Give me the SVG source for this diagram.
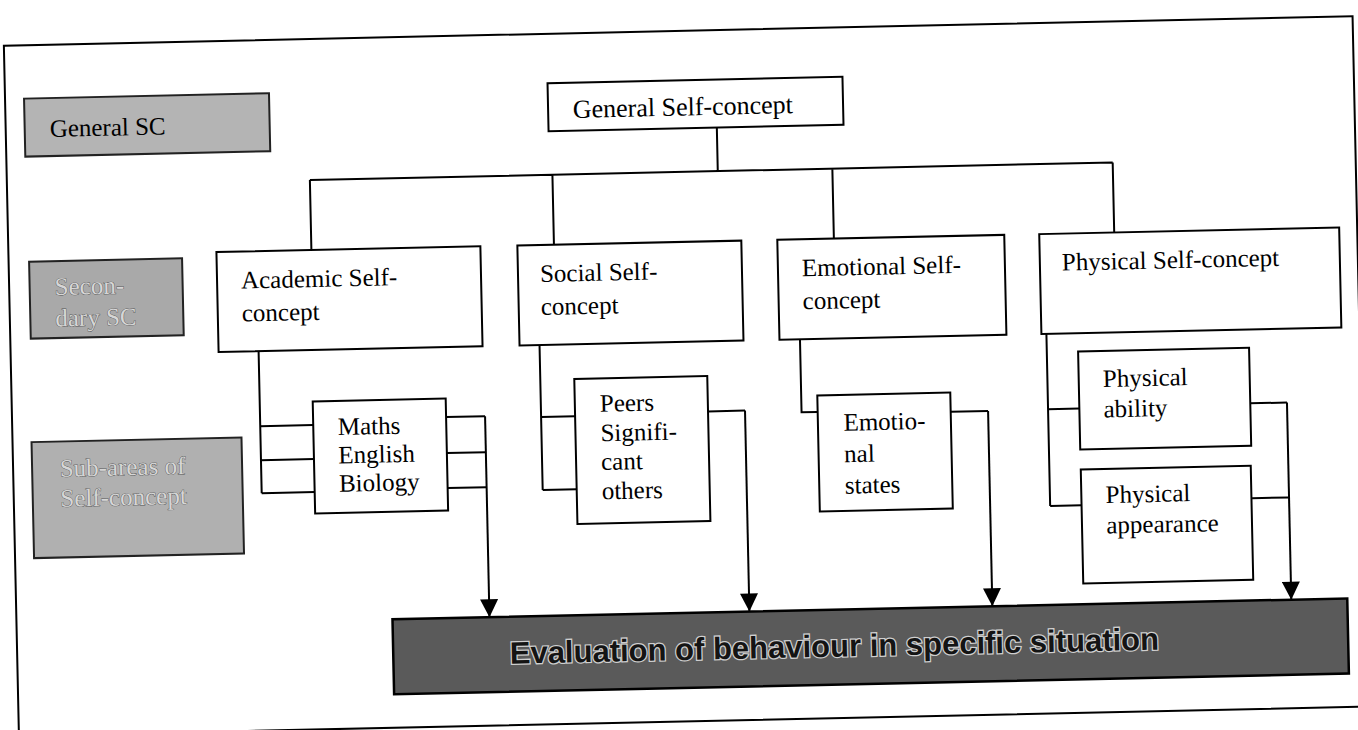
<svg xmlns="http://www.w3.org/2000/svg" width="1358" height="730" viewBox="0 0 1358 730">
<style>
  .box { fill: #ffffff; stroke: #000; stroke-width: 2; }
  .gray { fill: #b4b4b4; stroke: #222; stroke-width: 2; }
  .eval { fill: #5a5a5a; stroke: #000; stroke-width: 2.5; }
  .lbl { font-family: "Liberation Serif", "Times New Roman", serif; font-size: 25px; fill: #000; }
  .ghost { font-family: "Liberation Serif", "Times New Roman", serif; font-size: 25px; fill: #d6d6d6; stroke: #555; stroke-width: 0.8; paint-order: stroke; }
  .evtxt { font-family: "Liberation Sans", Arial, sans-serif; font-weight: bold; font-size: 31px; fill: #141414; stroke: #cfcfcf; stroke-width: 2.5; paint-order: stroke; }
  .ln { fill: none; stroke: #000; stroke-width: 2; }
</style>
<defs>
  <marker id="arr" viewBox="0 0 10 10" refX="10" refY="5" markerUnits="userSpaceOnUse" markerWidth="20" markerHeight="18" orient="auto">
    <path d="M0,0 L10,5 L0,10 z" fill="#000"/>
  </marker>
</defs>
<rect width="1358" height="730" fill="#fff"/>
<g transform="rotate(-1.25 679 365)">
  <rect id="frame" x="11" y="31" width="1349" height="690.5" fill="none" stroke="#000" stroke-width="2"/>

  <g id="connectors">
    <path class="ln" d="M722,128.4 V172 M314,172 H1117 M314,172 V242 M556.6,172 V242 M836.6,172 V242 M1117,172 V242"/>
    <path class="ln" d="M259,342 V484 M259,417 H312 M259,451 H312 M259,484 H312"/>
    <path class="ln" d="M445,412 H484 M445,448 H484 M445,483 H484"/>
    <path class="ln" d="M540,342 V487 M540,414 H574 M540,487 H574"/>
    <path class="ln" d="M707,412 H744"/>
    <path class="ln" d="M800.5,342 V415 H816.6"/>
    <path class="ln" d="M949.6,417.7 H987"/>
    <path class="ln" d="M1047,342 V514 M1047,417.3 H1078.3 M1047,514 H1078.4"/>
    <path class="ln" d="M1249,415.8 H1286 M1249,510.7 H1286"/>
    <path class="ln" d="M484,412 V613" marker-end="url(#arr)"/>
    <path class="ln" d="M744,412 V613" marker-end="url(#arr)"/>
    <path class="ln" d="M987,417.7 V613" marker-end="url(#arr)"/>
    <path class="ln" d="M1286,415.8 V613" marker-end="url(#arr)"/>
  </g>

  <g id="legend-general">
    <rect class="gray" x="30" y="84.4" width="245" height="58"/>
    <text class="lbl" x="55" y="123.3" fill="#111">General SC</text>
  </g>
  <g id="legend-secondary">
    <rect class="gray" x="31.5" y="247.5" width="153" height="77" style="fill:#a9a9a9"/>
    <text class="ghost" x="56.5" y="281.4">Secon-</text>
    <text class="ghost" x="56.5" y="313">dary SC</text>
  </g>
  <g id="legend-subareas">
    <rect class="gray" x="30" y="428" width="210" height="116" style="fill:#b0b0b0"/>
    <text class="ghost" x="57.6" y="463.2">Sub-areas of</text>
    <text class="ghost" x="57.6" y="493.2">Self-concept</text>
  </g>

  <g id="general-self-concept">
    <rect class="box" x="553.7" y="80.4" width="295" height="48"/>
    <text class="lbl" x="578.4" y="115.7" style="font-size:26px">General Self-concept</text>
  </g>

  <g id="academic">
    <rect class="box" x="219" y="242" width="264" height="100"/>
    <text class="lbl" x="243" y="279">Academic Self-</text>
    <text class="lbl" x="243" y="312">concept</text>
  </g>
  <g id="social">
    <rect class="box" x="520" y="242" width="224" height="100"/>
    <text class="lbl" x="542" y="279">Social Self-</text>
    <text class="lbl" x="542" y="312">concept</text>
  </g>
  <g id="emotional">
    <rect class="box" x="780" y="242" width="227" height="100"/>
    <text class="lbl" x="804" y="279">Emotional Self-</text>
    <text class="lbl" x="804" y="312">concept</text>
  </g>
  <g id="physical">
    <rect class="box" x="1042" y="242" width="300" height="100"/>
    <text class="lbl" x="1064" y="279">Physical Self-concept</text>
  </g>

  <g id="maths">
    <rect class="box" x="312" y="393.5" width="133" height="112"/>
    <text class="lbl" x="336.5" y="427.6">Maths</text>
    <text class="lbl" x="336.5" y="456">English</text>
    <text class="lbl" x="336.5" y="484.3">Biology</text>
  </g>
  <g id="peers">
    <rect class="box" x="574" y="376.7" width="133" height="145"/>
    <text class="lbl" x="599" y="410">Peers</text>
    <text class="lbl" x="599" y="439.5">Signifi-</text>
    <text class="lbl" x="599" y="468.3">cant</text>
    <text class="lbl" x="599" y="497.6">others</text>
  </g>
  <g id="emotional-states">
    <rect class="box" x="816.6" y="398.5" width="133" height="116"/>
    <text class="lbl" x="842.2" y="434.3">Emotio-</text>
    <text class="lbl" x="842.2" y="465.8">nal</text>
    <text class="lbl" x="842.2" y="497.3">states</text>
  </g>
  <g id="physical-ability">
    <rect class="box" x="1078.3" y="360.2" width="171" height="98"/>
    <text class="lbl" x="1102.5" y="396.2">Physical</text>
    <text class="lbl" x="1102.5" y="426.7">ability</text>
  </g>
  <g id="physical-appearance">
    <rect class="box" x="1078.4" y="478.2" width="170" height="114"/>
    <text class="lbl" x="1102.7" y="512.3">Physical</text>
    <text class="lbl" x="1102.7" y="542.9">appearance</text>
  </g>

  <g id="evaluation">
    <rect class="eval" x="387" y="613" width="955" height="75"/>
    <text class="evtxt" x="503.5" y="660">Evaluation of behaviour in specific situation</text>
  </g>
</g>
</svg>
